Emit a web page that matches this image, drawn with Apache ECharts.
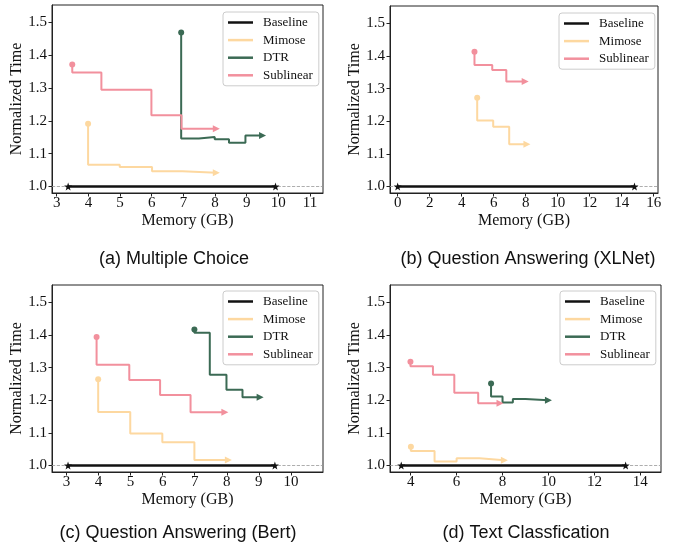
<!DOCTYPE html>
<html>
<head>
<meta charset="utf-8">
<script src="https://cdn.jsdelivr.net/npm/echarts@6/dist/echarts.min.js"></script>
<style>
  html, body { margin: 0; padding: 0; background: #fff; }
  #chart { width: 673px; height: 548px; }
</style>
</head>
<body>
<div id="chart"></div>
<script>
// ---- data, [memory (GB), normalized time] ----
// (a) Multiple Choice
const mcBaseline  = [[3.36, 1.0], [9.91, 1.0]];
const mcMimose    = [[3.99, 1.191], [4.99, 1.066], [6.01, 1.059], [6.97, 1.046], [8.04, 1.042]];
const mcDTR       = [[6.93, 1.469], [7.49, 1.146], [7.99, 1.151], [8.44, 1.144], [8.96, 1.133], [9.5, 1.155]];
const mcSublinear = [[3.49, 1.372], [4.41, 1.347], [5.99, 1.295], [6.94, 1.217], [8.04, 1.176]];

// (b) Question Answering (XLNet)
const xlBaseline  = [[0.0, 1.0], [14.8, 1.0]];
const xlMimose    = [[4.97, 1.272], [5.97, 1.202], [6.97, 1.183], [8.08, 1.129]];
const xlSublinear = [[4.8, 1.413], [5.91, 1.372], [6.79, 1.357], [7.97, 1.322]];

// (c) Question Answering (Bert)
const btBaseline  = [[3.05, 1.0], [9.5, 1.0]];
const btMimose    = [[3.99, 1.264], [4.99, 1.164], [5.99, 1.098], [6.99, 1.071], [8.05, 1.017]];
const btDTR       = [[6.99, 1.417], [7.47, 1.407], [7.99, 1.278], [8.49, 1.232], [9.04, 1.209]];
const btSublinear = [[3.94, 1.394], [4.96, 1.309], [5.92, 1.262], [6.87, 1.216], [7.94, 1.163]];

// (d) Text Classfication
const tcBaseline  = [[3.59, 1.0], [13.36, 1.0]];
const tcMimose    = [[4.01, 1.057], [5.04, 1.044], [6.0, 1.012], [7.0, 1.022], [8.08, 1.016]];
const tcDTR       = [[7.5, 1.251], [8.0, 1.211], [8.45, 1.193], [9.0, 1.204], [10.0, 1.2]];
const tcSublinear = [[3.99, 1.318], [4.97, 1.304], [5.9, 1.278], [6.94, 1.223], [7.89, 1.191]];

const captions = ['(a) Multiple Choice', '(b) Question Answering (XLNet)',
                  '(c) Question Answering (Bert)', '(d) Text Classfication'];
const xRanges = [[2.85, 11.41], [-0.48, 16.27], [2.55, 11.0], [3.1, 14.9]];
const xTicks = [
  [3, 4, 5, 6, 7, 8, 9, 10, 11],
  [0, 2, 4, 6, 8, 10, 12, 14, 16],
  [3, 4, 5, 6, 7, 8, 9, 10],
  [4, 6, 8, 10, 12, 14]
];
const yRange = [0.98, 1.553];
const yTicks = [1.0, 1.1, 1.2, 1.3, 1.4, 1.5];

const panels = [
  { Baseline: mcBaseline, Mimose: mcMimose, DTR: mcDTR, Sublinear: mcSublinear },
  { Baseline: xlBaseline, Mimose: xlMimose, Sublinear: xlSublinear },
  { Baseline: btBaseline, Mimose: btMimose, DTR: btDTR, Sublinear: btSublinear },
  { Baseline: tcBaseline, Mimose: tcMimose, DTR: tcDTR, Sublinear: tcSublinear }
];

const colors = { Baseline: '#111111', Mimose: '#fdd8a0', DTR: '#3b6a54', Sublinear: '#f2909d' };
const SERIF = 'Liberation Serif';
const AXIS_COLOR = '#222';
const STAR = 'path://M0,-10L2.35,-3.24L9.51,-3.09L3.8,1.24L5.88,8.09L0,4L-5.88,8.09L-3.8,1.24L-9.51,-3.09L-2.35,-3.24Z';

const grids = [
  { left: 52, top: 5, width: 271, height: 188 },
  { left: 390, top: 6, width: 268, height: 187 },
  { left: 52, top: 285, width: 271, height: 187 },
  { left: 390, top: 285, width: 271, height: 187 }
];
const legendPos = [[223, 12], [559, 13], [223, 291], [560, 291]];
const captionPos = [[169, 245], [523, 245], [173, 519], [521, 519]];

function makeSeries(name, pts, idx) {
  const color = colors[name];
  const last = pts.length - 1;
  const data = pts.map((p, i) => {
    if (name === 'Baseline' && (i === 0 || i === last)) {
      return { value: p, symbol: STAR, symbolSize: 8 };
    }
    if (i === 0) return { value: p, symbol: 'circle', symbolSize: 6 };
    if (i === last) return { value: p, symbol: 'triangle', symbolSize: 7, symbolRotate: -90 };
    return { value: p };
  });
  const s = {
    name: name,
    type: 'line',
    xAxisIndex: idx,
    yAxisIndex: idx,
    step: name === 'Baseline' ? false : 'start',
    symbol: 'none',
    showSymbol: true,
    data: data,
    lineStyle: { color: color, width: name === 'Baseline' ? 2.5 : 2 },
    itemStyle: { color: color },
    emphasis: { disabled: true },
    z: 3
  };
  if (name === 'Baseline') {
    s.z = 4;
    s.markLine = {
      silent: true,
      symbol: ['none', 'none'],
      label: { show: false },
      lineStyle: { type: 'dashed', color: '#999', width: 0.8 },
      data: [{ yAxis: 1.0 }],
      z: 2
    };
  }
  return s;
}

const series = [];
const legends = [];
panels.forEach((p, idx) => {
  Object.keys(p).forEach(name => series.push(makeSeries(name, p[name], idx)));
  legends.push({
    orient: 'vertical',
    left: legendPos[idx][0],
    top: legendPos[idx][1],
    data: Object.keys(p),
    icon: 'rect',
    itemWidth: 25,
    itemHeight: 2.5,
    itemGap: 4.6,
    padding: [4, 6, 4, 5],
    borderColor: '#ccc',
    borderWidth: 1,
    borderRadius: 3,
    backgroundColor: '#fff',
    selectedMode: false,
    textStyle: { fontFamily: SERIF, fontSize: 13, color: '#111', lineHeight: 13, padding: [0, 0, 0, 5] }
  });
});

const xAxes = xRanges.map((r, idx) => ({
  type: 'value',
  gridIndex: idx,
  min: r[0],
  max: r[1],
  name: 'Memory (GB)',
  nameLocation: 'middle',
  nameGap: 20,
  nameTextStyle: { fontFamily: SERIF, fontSize: 16, color: '#111' },
  axisLine: { show: true, onZero: false, lineStyle: { color: AXIS_COLOR, width: 1 } },
  axisTick: { show: true, customValues: xTicks[idx], length: 3.5, lineStyle: { color: AXIS_COLOR } },
  axisLabel: { customValues: xTicks[idx], fontFamily: SERIF, fontSize: 15, color: '#111', margin: 3 },
  splitLine: { show: false }
}));

const yAxes = grids.map((g, idx) => ({
  type: 'value',
  gridIndex: idx,
  min: yRange[0],
  max: yRange[1],
  name: 'Normalized Time',
  nameLocation: 'middle',
  nameGap: 21,
  nameTextStyle: { fontFamily: SERIF, fontSize: 16, color: '#111' },
  axisLine: { show: true, onZero: false, lineStyle: { color: AXIS_COLOR, width: 1 } },
  axisTick: { show: true, customValues: yTicks, length: 3.5, lineStyle: { color: AXIS_COLOR } },
  axisLabel: {
    customValues: yTicks, fontFamily: SERIF, fontSize: 15, color: '#111', margin: 5,
    formatter: v => Number(v).toFixed(1)
  },
  splitLine: { show: false }
}));

const titles = captions.map((t, idx) => ({
  text: t,
  left: captionPos[idx][0],
  top: captionPos[idx][1],
  textAlign: 'center',
  textStyle: { fontFamily: 'Liberation Sans', fontSize: 18, fontWeight: 'normal', color: '#111' }
}));

const myChart = echarts.init(document.getElementById('chart'));
myChart.setOption({
  animation: false,
  backgroundColor: '#fff',
  title: titles,
  grid: grids.map(g => Object.assign({ show: true, borderColor: AXIS_COLOR, borderWidth: 1, backgroundColor: 'transparent' }, g)),
  legend: legends,
  xAxis: xAxes,
  yAxis: yAxes,
  series: series
});
</script>
</body>
</html>
